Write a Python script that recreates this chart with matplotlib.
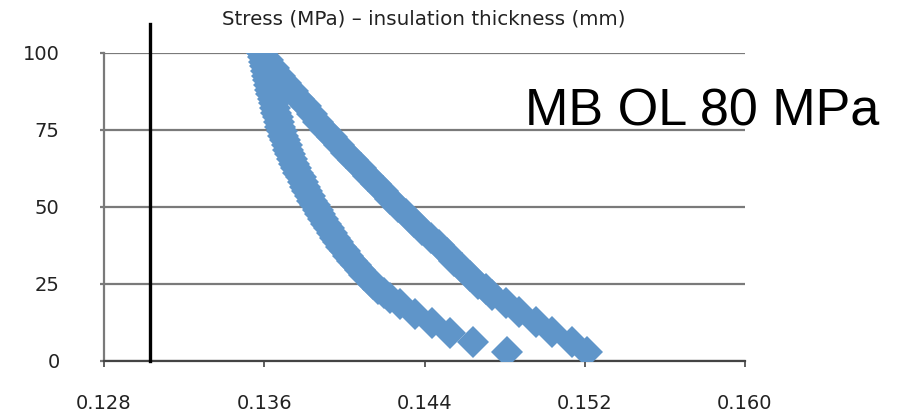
import matplotlib
matplotlib.use("Agg")
import matplotlib.pyplot as plt

# ─── Data ────────────────────────────────────────────────────────────────────
# left branch: thickness (mm) and stress (MPa), top to bottom
left_stress = [100.0, 98.5, 97.0, 95.5, 94.0, 92.5, 91.0, 89.5, 88.0, 86.5,
               85.0, 83.5, 82.0, 80.5, 79.0, 77.5, 76.0, 74.5, 73.0, 71.5,
               70.0, 68.5, 67.0, 65.5, 64.0, 62.5, 61.0, 59.5, 58.0, 56.5,
               55.0, 53.5, 52.0, 50.5, 49.0, 47.5, 46.0, 44.5, 43.0, 41.5,
               40.0, 38.5, 37.0, 35.5, 34.0, 32.5, 31.0, 29.5, 28.0, 26.5,
               25.0, 23.5, 22.0, 20.5, 18.5, 15.3, 12.3, 9.2, 6.1, 2.9]
left_thick = [0.13590, 0.13595, 0.13600, 0.13605, 0.13610, 0.13615, 0.13620,
              0.13625, 0.13630, 0.13636, 0.13642, 0.13648, 0.13654, 0.13660,
              0.13667, 0.13674, 0.13681, 0.13688, 0.13696, 0.13704, 0.13712,
              0.13721, 0.13730, 0.13739, 0.13749, 0.13759, 0.13770, 0.13781,
              0.13792, 0.13803, 0.13815, 0.13827, 0.13839, 0.13852, 0.13866,
              0.13880, 0.13894, 0.13908, 0.13922, 0.13937, 0.13952, 0.13968,
              0.13985, 0.14002, 0.14020, 0.14038, 0.14058, 0.14078, 0.14099,
              0.14121, 0.14145, 0.14170, 0.14197, 0.14226, 0.14280, 0.14355,
              0.14435, 0.14525, 0.14640, 0.14810]

# right branch
right_stress = [100.0, 97.5, 95.0, 92.5, 90.0, 87.5, 85.0, 82.5, 80.0, 77.5,
                75.0, 72.5, 70.0, 67.5, 65.0, 62.5, 60.0, 57.5, 55.0, 52.5,
                50.0, 47.5, 45.0, 42.5, 40.0, 37.5, 35.0, 32.5, 30.0, 27.5,
                25.0, 23.2, 21.4, 18.8, 15.9, 12.6, 9.4, 6.2, 2.9]
right_thick = [0.13587, 0.13617, 0.13647, 0.13677, 0.13710, 0.13742, 0.13774,
               0.13807, 0.13837, 0.13869, 0.13901, 0.13936, 0.13971, 0.14006,
               0.14044, 0.14081, 0.14118, 0.14156, 0.14193, 0.14230, 0.14270,
               0.14310, 0.14350, 0.14390, 0.14430, 0.14470, 0.14510, 0.14549,
               0.14589, 0.14629, 0.14669, 0.14709, 0.14739, 0.14809, 0.14873,
               0.14958, 0.15038, 0.15138, 0.15212]

x_ticks = [0.128, 0.136, 0.144, 0.152, 0.160]
y_ticks = [0, 25, 50, 75, 100]
marker_line_x = 0.1303

MARKER_COLOR = '#5f95c9'
GRID_COLOR = '#7a7a7a'

fig = plt.figure(figsize=(8.97, 4.17), dpi=100)
ax = fig.add_axes([104 / 897, 1 - 361 / 417, (745 - 104) / 897, (361 - 52.5) / 417])

ax.plot(left_thick, left_stress, linestyle='none', marker='D', ms=16.5,
        color=MARKER_COLOR, markeredgewidth=0, zorder=3)
ax.plot(right_thick, right_stress, linestyle='none', marker='D', ms=16.5,
        color=MARKER_COLOR, markeredgewidth=0, zorder=3)

ax.set_xlim(0.128, 0.160)
ax.set_ylim(0, 100)
ax.set_xticks(x_ticks)
ax.set_xticklabels([f'{v:.3f}' for v in x_ticks])
ax.set_yticks(y_ticks)

# ─── Axis styling ────────────────────────────────────────────────────────────
ax.grid(axis='y', color=GRID_COLOR, linewidth=1.6, zorder=1)
ax.set_axisbelow(True)
for side in ('top', 'right'):
    ax.spines[side].set_visible(False)
ax.spines['left'].set_color(GRID_COLOR)
ax.spines['left'].set_linewidth(1.6)
ax.spines['bottom'].set_color('#444444')
ax.spines['bottom'].set_linewidth(1.6)
ax.tick_params(axis='y', length=3, width=1.6, color=GRID_COLOR,
               labelsize=14, pad=29, labelcolor='#222222')
ax.tick_params(axis='x', length=4, width=1.2, color='#444444',
               labelsize=14, pad=20, labelcolor='#222222')

# vertical black reference line, runs above the plot area
ax.axvline(marker_line_x, ymin=0, ymax=1.092, color='black', linewidth=2.4,
           clip_on=False, zorder=4)

fig.text(424 / 897, 1 - 19 / 417, 'Stress (MPa) \u2013 insulation thickness (mm)',
         ha='center', va='center', fontsize=14.3, color='#222222')
fig.text(525 / 897, 1 - 125 / 417, 'MB OL 80 MPa', ha='left', va='baseline',
         fontsize=37.5, family='Liberation Sans', color='black')

fig.savefig('out.png', dpi=100)
